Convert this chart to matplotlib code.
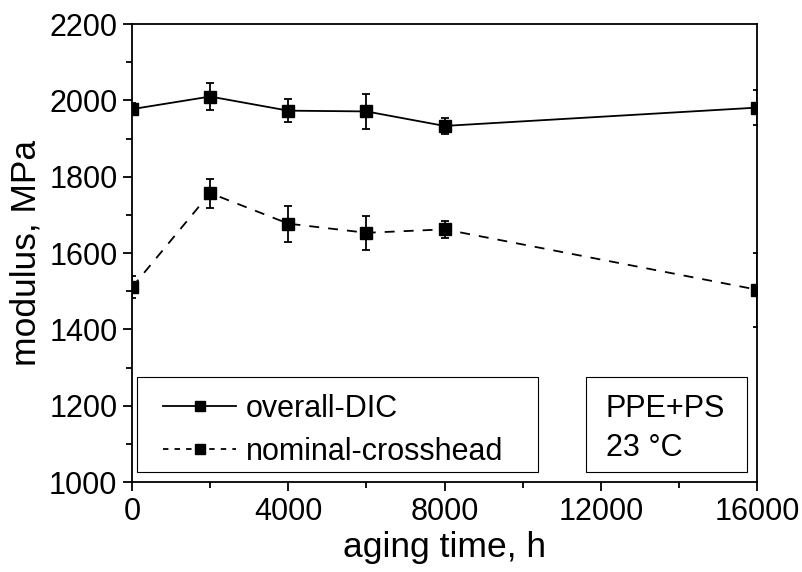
import matplotlib.pyplot as plt
from matplotlib.patches import Rectangle
from matplotlib.ticker import MultipleLocator

plt.rcParams['font.family'] = ['Liberation Sans', 'DejaVu Sans']

# aging time, h
aging_time = [0, 2000, 4000, 6000, 8000, 16000]

# modulus, MPa
dic_modulus = [1977, 2010, 1973, 1971, 1933, 1981]
dic_err = [15, 36, 30, 46, 22, 45]
crosshead_modulus = [1510, 1757, 1677, 1653, 1662, 1504]
crosshead_err = [29, 38, 47, 45, 23, 97]

fig = plt.figure(figsize=(8.02, 5.72), dpi=100)
ax = fig.add_axes([0.1646, 0.1573, 0.7793, 0.8007])

style = dict(color='black', lw=1.3, marker='s', markersize=8.3, capsize=2.6,
             elinewidth=1.3, capthick=1.3)
ax.errorbar(aging_time, dic_modulus, yerr=dic_err, label='overall-DIC', **style)
ax.errorbar(aging_time, crosshead_modulus, yerr=crosshead_err,
            linestyle=(0, (5.5, 5)), label='nominal-crosshead', **style)

ax.set_xlim(0, 16000)
ax.set_ylim(1000, 2200)
ax.xaxis.set_major_locator(MultipleLocator(4000))
ax.xaxis.set_minor_locator(MultipleLocator(2000))
ax.yaxis.set_major_locator(MultipleLocator(200))
ax.yaxis.set_minor_locator(MultipleLocator(100))
ax.tick_params(which='major', direction='out', length=6.5, width=1.3,
               labelsize=22, pad=4)
ax.tick_params(which='minor', direction='out', length=4.3, width=1.3)
for s in ax.spines.values():
    s.set_linewidth(1.3)

ax.set_xlabel('aging time, h', fontsize=25.5, labelpad=3.5)
ax.set_ylabel('modulus, MPa', fontsize=25.5, labelpad=5)

# legend, frame drawn separately
handles, labels = ax.get_legend_handles_labels()
handles = [h[0] for h in handles]
leg = ax.legend(handles, labels, loc='upper left',
                bbox_to_anchor=(0.0496, 0.192), frameon=False, fontsize=22,
                handlelength=2.4, handletextpad=0.3, borderpad=0,
                labelspacing=0.42, borderaxespad=0, markerscale=0.8)
leg.get_lines()[1].set_linestyle((0, (3, 3.4)))
ax.add_patch(Rectangle((0.0075, 0.0225), 0.6425, 0.2061, transform=ax.transAxes,
                       fill=False, ec='black', lw=0.8, zorder=5))

# sample box
ax.add_patch(Rectangle((0.7264, 0.0216), 0.2581, 0.207, transform=ax.transAxes,
                       fc='white', ec='black', lw=0.8, zorder=5))
ax.text(0.758, 0.1426, 'PPE+PS', transform=ax.transAxes, fontsize=22,
        ha='left', va='baseline', zorder=6)
ax.text(0.758, 0.0568, '23 °C', transform=ax.transAxes, fontsize=22,
        ha='left', va='baseline', zorder=6)

fig.savefig('out.png', dpi=100)
